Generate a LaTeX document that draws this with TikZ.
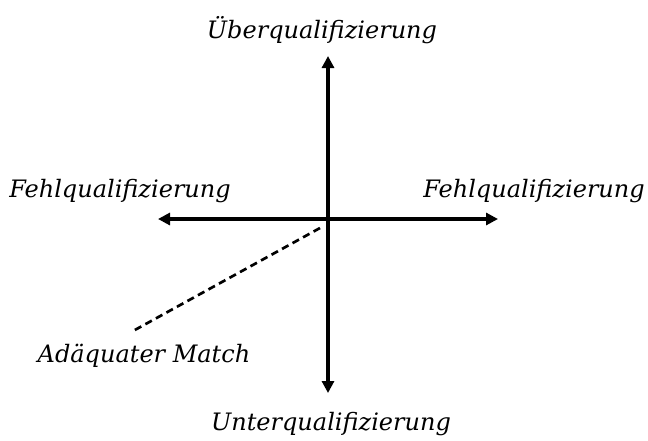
\documentclass[tikz,border=0pt]{standalone}
\usepackage{fontspec}
\setmainfont{DejaVu Serif}
\usetikzlibrary{arrows.meta, positioning}
\tikzset{
  axisline/.style={line width=2.6pt, {Triangle[length=9pt,width=9pt]}-{Triangle[length=9pt,width=9pt]}},
  matchline/.style={line width=2pt, dash pattern=on 5.5pt off 3.5pt},
  axislabel/.style={font=\itshape\fontsize{18}{21}\selectfont, inner sep=0pt}
}

\begin{document}
\begin{tikzpicture}[x=0.75pt,y=-0.75pt]
  \useasboundingbox (0,0) rectangle (648,440);
  % axes
  \coordinate (origin) at (328,219);
  \coordinate (top) at (328,56);
  \coordinate (bottom) at (328,393);
  \coordinate (left) at (158,219);
  \coordinate (right) at (498,219);
  \draw[axisline] (bottom) -- (top);
  \draw[axisline] (left) -- (right);
  % adequate match
  \coordinate (matchstart) at (320,228);
  \coordinate (matchend) at (133,331);
  \draw[matchline] (matchstart) -- (matchend);
  % labels
  \node[axislabel] (over) at (322,30) {Überqualifizierung};
  \node[axislabel] (under) at (331,424) {Unterqualifizierung};
  \node[axislabel] (misleft) at (120,191) {Fehlqualifizierung};
  \node[axislabel] (misright) at (534,191) {Fehlqualifizierung};
  \node[axislabel] (match) at (144,356) {Adäquater Match};
\end{tikzpicture}
\end{document}
